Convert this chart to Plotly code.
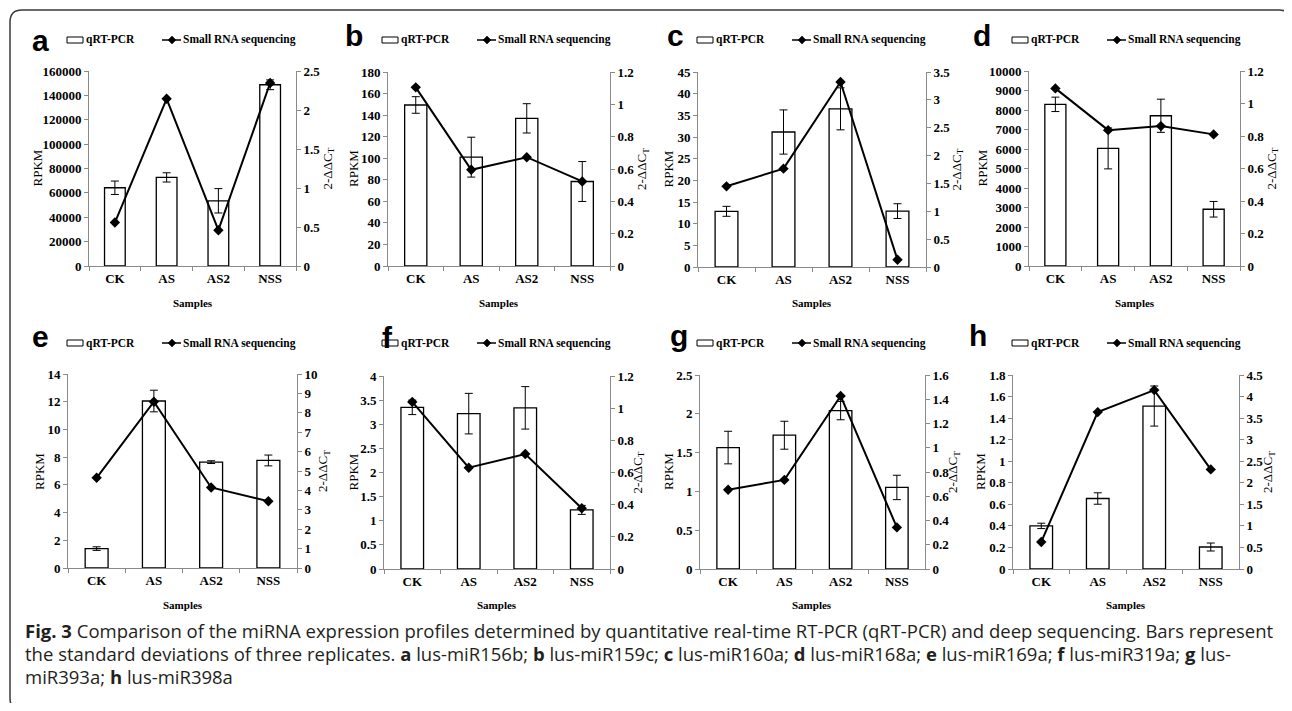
import plotly.graph_objects as go

# The page adds an 8px body margin; the figure is sized so the page is 1292x711.
PAGE_W, PAGE_H = 1292, 711
OFF = 8
W, H = PAGE_W - 2 * OFF, PAGE_H - 2 * OFF

categories = ["CK", "AS", "AS2", "NSS"]
panel_letters = ["a", "b", "c", "d", "e", "f", "g", "h"]

# qRT-PCR bars (left axis, RPKM) and their standard deviations
bars_a = [64200, 72700, 53500, 148700]
errs_a = [5500, 3800, 10000, 4000]
bars_b = [149.4, 101.0, 137.0, 78.4]
errs_b = [7.7, 18.5, 13.6, 18.5]
bars_c = [12.85, 31.15, 36.5, 12.9]
errs_c = [1.15, 5.1, 4.85, 1.7]
bars_d = [8290, 6030, 7705, 2910]
errs_d = [370, 1050, 850, 400]
bars_e = [1.40, 12.05, 7.64, 7.76]
errs_e = [0.13, 0.78, 0.10, 0.39]
bars_f = [3.35, 3.22, 3.34, 1.225]
errs_f = [0.15, 0.42, 0.44, 0.093]
bars_g = [1.565, 1.724, 2.041, 1.051]
errs_g = [0.21, 0.18, 0.118, 0.157]
bars_h = [0.40, 0.654, 1.512, 0.204]
errs_h = [0.025, 0.053, 0.186, 0.037]

# Small RNA sequencing line (right axis, 2-ΔΔCT)
line_a = [0.557, 2.144, 0.459, 2.346]
line_b = [1.105, 0.595, 0.673, 0.523]
line_c = [1.448, 1.765, 3.32, 0.13]
line_d = [1.093, 0.836, 0.861, 0.81]
line_e = [4.65, 8.57, 4.15, 3.44]
line_f = [1.039, 0.630, 0.715, 0.378]
line_g = [0.653, 0.735, 1.427, 0.343]
line_h = [0.627, 3.64, 4.15, 2.31]

# axis scales
left_max = [160000, 180, 45, 10000, 14, 4, 2.5, 1.8]
left_step = [20000, 20, 5, 1000, 2, 0.5, 0.5, 0.2]
right_max = [2.5, 1.2, 3.5, 1.2, 10, 1.2, 1.6, 4.5]
right_step = [0.5, 0.2, 0.5, 0.2, 1, 0.2, 0.2, 0.5]

caption_lines = [
    "<b>Fig. 3</b> Comparison of the miRNA expression profiles determined by quantitative real-time RT-PCR (qRT-PCR) and deep sequencing. Bars represent",
    "the standard deviations of three replicates. <b>a</b> lus-miR156b; <b>b</b> lus-miR159c; <b>c</b> lus-miR160a; <b>d</b> lus-miR168a; <b>e</b> lus-miR169a; <b>f</b> lus-miR319a; <b>g</b> lus-",
    "miR393a; <b>h</b> lus-miR398a",
]

bars_all = [bars_a, bars_b, bars_c, bars_d, bars_e, bars_f, bars_g, bars_h]
errs_all = [errs_a, errs_b, errs_c, errs_d, errs_e, errs_f, errs_g, errs_h]
lines_all = [line_a, line_b, line_c, line_d, line_e, line_f, line_g, line_h]

# ---- layout geometry (page pixels) ----
boxes = [(89, 296, 71, 266), (388, 610, 72, 266), (698, 926, 72, 267), (1029, 1240, 71, 266),
         (68, 297, 374, 568), (384, 610, 376, 569), (700, 925, 375, 569), (1013, 1239, 375, 569)]
letter_pos = [(40, 50), (354, 45), (675, 45), (982, 45), (40, 346), (387, 347), (679, 345), (978, 345)]
legend_pos = [(67, 162, 40), (382, 477, 40), (697, 792, 40), (1012, 1107, 40),
              (67, 162, 343), (382, 477, 343), (697, 792, 343), (1012, 1107, 343)]
rpkm_x = [37, 353, 668, 982, 39, 353, 668, 980]
ddct_x = [328, 642, 957, 1272, 323, 638, 953, 1268]

SERIF = "Liberation Serif"
SANS = "Liberation Sans"
AXC = "#8a8a8a"


def px(x):
    return (x - OFF) / W


def py(y):
    return 1 - (y - OFF) / H


def ticks(mx, st):
    n = int(round(mx / st))
    vals = [round(k * st, 6) for k in range(n + 1)]
    return vals, [f"{v:g}" for v in vals]


fig = go.Figure()
layout = {}
annotations = []
shapes = []

for i in range(8):
    n = i + 1
    xa = "x" if n == 1 else f"x{n}"
    ya = "y" if n == 1 else f"y{n}"
    yr = f"y{n + 8}"
    fig.add_trace(go.Bar(
        x=categories, y=bars_all[i], xaxis=xa, yaxis=ya, width=0.4,
        marker=dict(color="white", line=dict(color="black", width=1.3)),
        error_y=dict(type="data", array=errs_all[i], color="black", thickness=1, width=4),
        name="qRT-PCR"))
    fig.add_trace(go.Scatter(
        x=categories, y=lines_all[i], xaxis=xa, yaxis=yr, mode="lines+markers",
        line=dict(color="black", width=2),
        marker=dict(symbol="diamond", size=8, color="black"),
        name="Small RNA sequencing"))

    x0, x1, y0, y1 = boxes[i]
    xkey = "xaxis" if n == 1 else f"xaxis{n}"
    ykey = "yaxis" if n == 1 else f"yaxis{n}"
    rkey = f"yaxis{n + 8}"
    layout[xkey] = dict(
        domain=[px(x0), px(x1)], anchor=ya, type="category", automargin=False,
        showline=True, linecolor=AXC, linewidth=1, showgrid=False, zeroline=False,
        ticks="outside", tickson="boundaries", ticklen=4, tickcolor=AXC,
        tickfont=dict(family=SERIF, size=13, color="black", weight="bold"))
    lv, lt = ticks(left_max[i], left_step[i])
    layout[ykey] = dict(
        domain=[py(y1), py(y0)], anchor=xa, range=[0, left_max[i]], automargin=False,
        tickmode="array", tickvals=lv, ticktext=lt,
        showline=True, linecolor=AXC, linewidth=1, showgrid=False, zeroline=False,
        ticks="outside", ticklen=4, tickcolor=AXC,
        tickfont=dict(family=SERIF, size=13, color="black", weight="bold"))
    rv, rt = ticks(right_max[i], right_step[i])
    layout[rkey] = dict(
        overlaying=ya, side="right", anchor=xa, range=[0, right_max[i]], automargin=False,
        tickmode="array", tickvals=rv, ticktext=rt,
        showline=True, linecolor=AXC, linewidth=1, showgrid=False, zeroline=False,
        ticks="outside", ticklen=4, tickcolor=AXC,
        tickfont=dict(family=SERIF, size=13, color="black", weight="bold"))

    # panel letter (baseline positioned)
    lx, lb = letter_pos[i]
    fsz = 30
    annotations.append(dict(
        text=f"<b>{panel_letters[i]}</b>", x=px(lx), y=py(lb - 0.33 * fsz), xref="paper", yref="paper",
        xanchor="center", yanchor="middle", showarrow=False,
        font=dict(family=SANS, size=fsz, color="black")))

    # legend (box + line with diamond)
    bx, lx0, cy = legend_pos[i]
    shapes.append(dict(type="rect", xref="paper", yref="paper",
                       x0=px(bx), x1=px(bx + 16), y0=py(cy + 3), y1=py(cy - 3),
                       fillcolor="white", line=dict(color="black", width=1)))
    annotations.append(dict(
        text="<b>qRT-PCR</b>", x=px(bx + 17), y=py(cy), xref="paper", yref="paper",
        xanchor="left", yanchor="middle", showarrow=False,
        font=dict(family=SERIF, size=11.5, color="black")))
    shapes.append(dict(type="line", xref="paper", yref="paper",
                       x0=px(lx0), x1=px(lx0 + 19), y0=py(cy), y1=py(cy),
                       line=dict(color="black", width=1.5)))
    dcx = lx0 + 10
    dpath = (f"M {px(dcx - 4)},{py(cy)} L {px(dcx)},{py(cy - 4)} "
             f"L {px(dcx + 4)},{py(cy)} L {px(dcx)},{py(cy + 4)} Z")
    shapes.append(dict(type="path", xref="paper", yref="paper", path=dpath,
                       fillcolor="black", line=dict(color="black", width=0.5)))
    annotations.append(dict(
        text="<b>Small RNA sequencing</b>", x=px(lx0 + 19), y=py(cy), xref="paper", yref="paper",
        xanchor="left", yanchor="middle", showarrow=False,
        font=dict(family=SERIF, size=11.5, color="black")))

    # axis titles
    ymid = (y0 + y1) / 2
    annotations.append(dict(
        text="RPKM", x=px(rpkm_x[i]), y=py(ymid), xref="paper", yref="paper",
        xanchor="center", yanchor="middle", showarrow=False, textangle=-90,
        font=dict(family=SERIF, size=13, color="black")))
    annotations.append(dict(
        text="2-ΔΔC<sub>T</sub>", x=px(ddct_x[i]), y=py(ymid), xref="paper", yref="paper",
        xanchor="center", yanchor="middle", showarrow=False, textangle=-90,
        font=dict(family=SERIF, size=13, color="black")))
    annotations.append(dict(
        text="<b>Samples</b>", x=px((x0 + x1) / 2), y=py(303 if i < 4 else 605),
        xref="paper", yref="paper", xanchor="center", yanchor="middle", showarrow=False,
        font=dict(family=SERIF, size=11, color="black")))

# caption
for txt, yc in zip(caption_lines, [630, 653, 676]):
    annotations.append(dict(
        text=txt, x=px(23), y=py(yc), xref="paper", yref="paper",
        xanchor="left", yanchor="middle", showarrow=False,
        font=dict(family="Open Sans", size=18.5, color="#231f20")))

# outer rounded frame
r = 12
L, T, R, B = 10, 10, 1291, 710
fpath = (f"M {px(L)},{py(T + r)} Q {px(L)},{py(T)} {px(L + r)},{py(T)} "
         f"L {px(R - r)},{py(T)} Q {px(R)},{py(T)} {px(R)},{py(T + r)} "
         f"L {px(R)},{py(B - r)} Q {px(R)},{py(B)} {px(R - r)},{py(B)} "
         f"L {px(L + r)},{py(B)} Q {px(L)},{py(B)} {px(L)},{py(B - r)} Z")
shapes.append(dict(type="path", xref="paper", yref="paper", path=fpath,
                   line=dict(color="#3a3a3a", width=1.5), fillcolor="rgba(0,0,0,0)"))

fig.update_layout(
    width=W, height=H, margin=dict(l=0, r=0, t=0, b=0, autoexpand=False),
    paper_bgcolor="white", plot_bgcolor="white", showlegend=False,
    annotations=annotations, shapes=shapes, **layout)

fig.write_html("out.html")
